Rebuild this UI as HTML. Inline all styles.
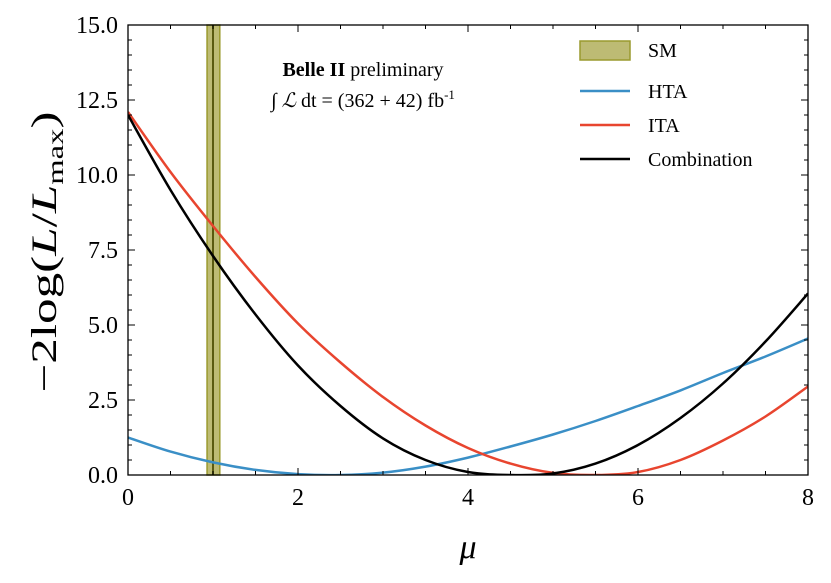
<!DOCTYPE html>
<html><head><meta charset="utf-8"><style>
body{margin:0;background:#fff;}
svg text{font-family:"Liberation Serif",serif;fill:#000;}
</style></head><body>
<svg id="chart" width="831" height="578" viewBox="0 0 831 578" xmlns="http://www.w3.org/2000/svg">
<g id="marks"></g>
<rect x="128" y="25" width="680" height="450" fill="none" stroke="#000" stroke-width="1.3"/>
<g id="ticks"></g>
<text x="468" y="558" font-size="34" font-style="italic" text-anchor="middle">μ</text>
<text transform="translate(56,252) rotate(-90) scale(1.42,1)" font-size="36" text-anchor="middle">−2log(<tspan font-style="italic">L</tspan>/<tspan font-style="italic">L</tspan><tspan font-size="23" dy="7">max</tspan><tspan dy="-7">)</tspan></text>
<g>
<text x="363" y="76" font-size="20" text-anchor="middle"><tspan font-weight="bold">Belle II</tspan> preliminary</text>
<text x="363" y="107" font-size="20" text-anchor="middle">∫ <tspan font-style="italic">ℒ</tspan> dt = (362 + 42) fb<tspan font-size="13" dy="-8">-1</tspan></text>
</g>
<g>
<rect x="580" y="41" width="50" height="19" fill="#bdbb74" stroke="#9a9a2e" stroke-width="1.5"/>
<text x="648" y="57" font-size="20">SM</text>
<line x1="580" y1="91" x2="630" y2="91" stroke="#3a8fc6" stroke-width="2.5"/>
<text x="648" y="98" font-size="20">HTA</text>
<line x1="580" y1="125" x2="630" y2="125" stroke="#e8452f" stroke-width="2.5"/>
<text x="648" y="132" font-size="20">ITA</text>
<line x1="580" y1="159" x2="630" y2="159" stroke="#000" stroke-width="2.5"/>
<text x="648" y="166" font-size="20">Combination</text>
</g>
</svg>
<script>
const muGrid=[0,0.5,1,1.5,2,2.5,3,3.5,4,4.5,5,5.5,6,6.5,7,7.5,8];
const htaValues=[1.25,0.78,0.42,0.17,0.03,0.0,0.08,0.28,0.58,0.95,1.35,1.8,2.3,2.82,3.4,3.95,4.55];
const itaValues=[12.1,10.1,8.3,6.6,5.05,3.75,2.6,1.65,0.9,0.38,0.07,0.0,0.1,0.5,1.15,1.95,2.95];
const combValues=[12.0,9.5,7.3,5.35,3.65,2.3,1.22,0.5,0.1,0.0,0.05,0.38,1.0,1.9,3.05,4.45,6.05];
const smBand=[0.93,1.08];
const smCenter=1.0;
const xTicks=[0,2,4,6,8];
const yTicks=[0,2.5,5,7.5,10,12.5,15];
const yTickLabels=["0.0","2.5","5.0","7.5","10.0","12.5","15.0"];

const X0=128,X1=808,Y0=475,Y1=25;
const sx=v=>X0+(v-0)/(8-0)*(X1-X0);
const sy=v=>Y0-(v-0)/(15-0)*(Y0-Y1);
const NS="http://www.w3.org/2000/svg";
const marks=document.getElementById('marks');
const ticks=document.getElementById('ticks');
function mk(tag,attrs,parent){const e=document.createElementNS(NS,tag);for(const k in attrs)e.setAttribute(k,attrs[k]);parent.appendChild(e);return e;}

const band=mk('rect',{x:sx(smBand[0]),y:Y1,width:sx(smBand[1])-sx(smBand[0]),height:Y0-Y1,fill:'#bdbb74',stroke:'#9a9a2e','stroke-width':1.5},marks);


const cl=mk('line',{x1:sx(smCenter),x2:sx(smCenter),y1:Y1,y2:Y0,stroke:'#5a5a10','stroke-width':2},marks);



function curvePath(xs,ys){
  const p=xs.map((x,i)=>[sx(x),sy(ys[i])]);
  let d='M'+p[0][0]+','+p[0][1];
  for(let i=0;i<p.length-1;i++){
    const p0=p[i-1]||p[i],p1=p[i],p2=p[i+1],p3=p[i+2]||p[i+1];
    const c1=[p1[0]+(p2[0]-p0[0])/6,p1[1]+(p2[1]-p0[1])/6];
    const c2=[p2[0]-(p3[0]-p1[0])/6,p2[1]-(p3[1]-p1[1])/6];
    d+=' C'+c1+' '+c2+' '+p2;
  }
  return d;
}
const clip=mk('clipPath',{id:'pc'},marks);mk('rect',{x:X0,y:Y1,width:X1-X0,height:Y0-Y1},clip);
const series=[[htaValues,'#3a8fc6','hta-curve'],[itaValues,'#e8452f','ita-curve'],[combValues,'#000','combination-curve']];
series.forEach(s=>{
  const path=mk('path',{d:curvePath(muGrid,s[0]),fill:'none',stroke:s[1],'stroke-width':2.5,'clip-path':'url(#pc)'},marks);
  
  
});

for(let v=0;v<=8.001;v+=0.5){
  const major=Math.abs(v-Math.round(v/2)*2)<1e-6;const L=major?7:4;
  mk('line',{x1:sx(v),x2:sx(v),y1:Y0,y2:Y0-L,stroke:'#000','stroke-width':1},ticks);
  mk('line',{x1:sx(v),x2:sx(v),y1:Y1,y2:Y1+L,stroke:'#000','stroke-width':1},ticks);
}
for(let v=0;v<=15.001;v+=0.5){
  const major=Math.abs(v/2.5-Math.round(v/2.5))<1e-6;const L=major?7:4;
  mk('line',{x1:X0,x2:X0+L,y1:sy(v),y2:sy(v),stroke:'#000','stroke-width':1},ticks);
  mk('line',{x1:X1,x2:X1-L,y1:sy(v),y2:sy(v),stroke:'#000','stroke-width':1},ticks);
}
xTicks.forEach(v=>{
  const t=mk('text',{x:sx(v),y:Y0+30,'font-size':24,'text-anchor':'middle'},ticks);t.textContent=v;
  
  
});
yTicks.forEach((v,i)=>{
  const t=mk('text',{x:X0-10,y:sy(v)+8,'font-size':24,'text-anchor':'end'},ticks);t.textContent=yTickLabels[i];
  
  
});
</script>
</body></html>
